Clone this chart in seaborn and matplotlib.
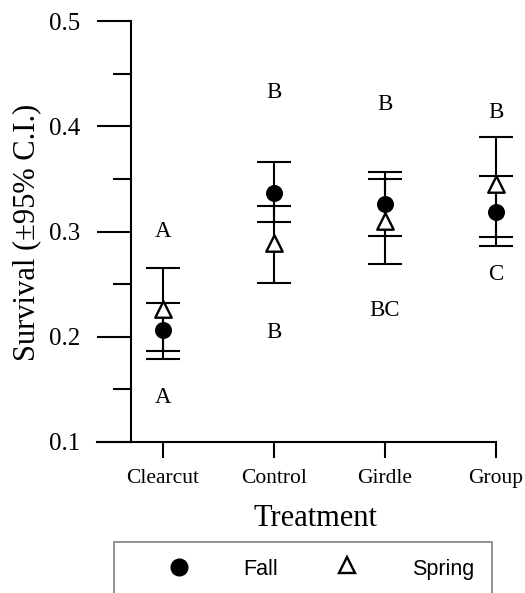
import numpy as np
import pandas as pd
import matplotlib
matplotlib.use("Agg")
import matplotlib.pyplot as plt
import seaborn as sns
from matplotlib.patches import Rectangle
from matplotlib.lines import Line2D

# ---- data ----
categories = ["Clearcut", "Control", "Girdle", "Group"]
fall_mean = [0.206, 0.337, 0.326, 0.319]
fall_lo = [0.179, 0.309, 0.296, 0.286]
fall_hi = [0.232, 0.366, 0.357, 0.353]
spring_mean = [0.226, 0.289, 0.310, 0.345]
spring_lo = [0.186, 0.251, 0.269, 0.295]
spring_hi = [0.265, 0.324, 0.350, 0.390]
top_letters = ["A", "B", "B", "B"]
top_letter_y = [0.300, 0.432, 0.421, 0.413]
bottom_letters = ["A", "B", "BC", "C"]
bottom_letter_y = [0.142, 0.204, 0.225, 0.259]
y_ticks = [0.1, 0.2, 0.3, 0.4, 0.5]
y_minor = [0.15, 0.25, 0.35, 0.45]

sns.set_theme(style="ticks")
plt.rcParams["font.family"] = ["Liberation Serif", "DejaVu Serif"]
plt.rcParams["text.color"] = "black"
plt.rcParams["axes.labelcolor"] = "black"
plt.rcParams["xtick.color"] = "black"
plt.rcParams["ytick.color"] = "black"

fall_df = pd.DataFrame({"Treatment": categories, "Survival": fall_mean})
spring_df = pd.DataFrame({"Treatment": categories, "Survival": spring_mean})

W, H = 525, 593
fig = plt.figure(figsize=(W / 100, H / 100), dpi=100)
ax = fig.add_axes([97 / W, 1 - 442 / H, (496 - 97) / W, (442 - 21) / H])

# markers (seaborn)
sns.scatterplot(data=fall_df, x="Treatment", y="Survival", ax=ax, marker="o",
                color="black", s=150, linewidth=0, zorder=4, clip_on=False, legend=False)
sns.scatterplot(data=spring_df, x="Treatment", y="Survival", ax=ax, marker="^",
                facecolor="white", edgecolor="black", s=140, linewidth=1.7,
                zorder=5, clip_on=False, legend=False)

# error bars
fm, fl, fh = map(np.array, (fall_mean, fall_lo, fall_hi))
sm, sl, sh = map(np.array, (spring_mean, spring_lo, spring_hi))
for m, lo, hi in ((fm, fl, fh), (sm, sl, sh)):
    eb = ax.errorbar(categories, m, yerr=[m - lo, hi - m], fmt="none", ecolor="black",
                     elinewidth=1.5, capsize=12, capthick=1.5, zorder=2)
    for a in eb.lines[1] + eb.lines[2]:
        a.set_clip_on(False)

# letters
for i, (t, ty, b, by) in enumerate(zip(top_letters, top_letter_y, bottom_letters, bottom_letter_y)):
    ax.text(i, ty, t, ha="center", va="center", fontsize=16.5, color="black")
    ax.text(i, by, b, ha="center", va="center", fontsize=16.5, color="black")

ax.set_xlim(-0.595, 3.0)
ax.set_ylim(0.1, 0.5)
ax.set_yticks(y_ticks)
ax.set_yticklabels([f"{v:.1f}" for v in y_ticks])
ax.set_yticks(y_minor, minor=True)
ax.set_xlabel("")
ax.set_ylabel("")

ax.spines["top"].set_visible(False)
ax.spines["right"].set_visible(False)
ax.spines["left"].set_position(("data", -0.29))
for s in ("left", "bottom"):
    ax.spines[s].set_linewidth(1.5)
    ax.spines[s].set_color("black")

ax.tick_params(axis="y", which="major", length=24.5, width=1.5, direction="out",
               pad=12, labelsize=18, colors="black")
ax.tick_params(axis="y", which="minor", length=13, width=1.5, direction="out")
ax.tick_params(axis="x", which="major", length=11.5, width=1.5, direction="out",
               pad=8, labelsize=15.5, colors="black")

fig.text(315 / W, 1 - 518 / H, "Treatment", ha="center", va="center", fontsize=22)
fig.text(27 / W, 1 - 232 / H, "Survival (±95% C.I.)", ha="center", va="center",
         rotation=90, fontsize=22)

# legend box
fig.add_artist(Rectangle((114 / W, -0.05), (492 - 114) / W, 0.05 + 1 - 542 / H,
                         transform=fig.transFigure, fill=False, edgecolor="#808080", lw=1.2))
ly = 1 - 567 / H
fig.add_artist(Line2D([179 / W], [ly], marker="o", ms=12, color="black", lw=0,
                      transform=fig.transFigure))
fig.add_artist(Line2D([347 / W], [ly + 0.003], marker="^", ms=12, markerfacecolor="white",
                      markeredgecolor="black", markeredgewidth=1.7, lw=0,
                      transform=fig.transFigure))
fig.text(243 / W, ly, "Fall", ha="left", va="center_baseline", fontsize=15.5,
         family="Liberation Sans")
fig.text(412 / W, ly, "Spring", ha="left", va="center_baseline", fontsize=15.5,
         family="Liberation Sans")

fig.savefig("out.png", dpi=100)
